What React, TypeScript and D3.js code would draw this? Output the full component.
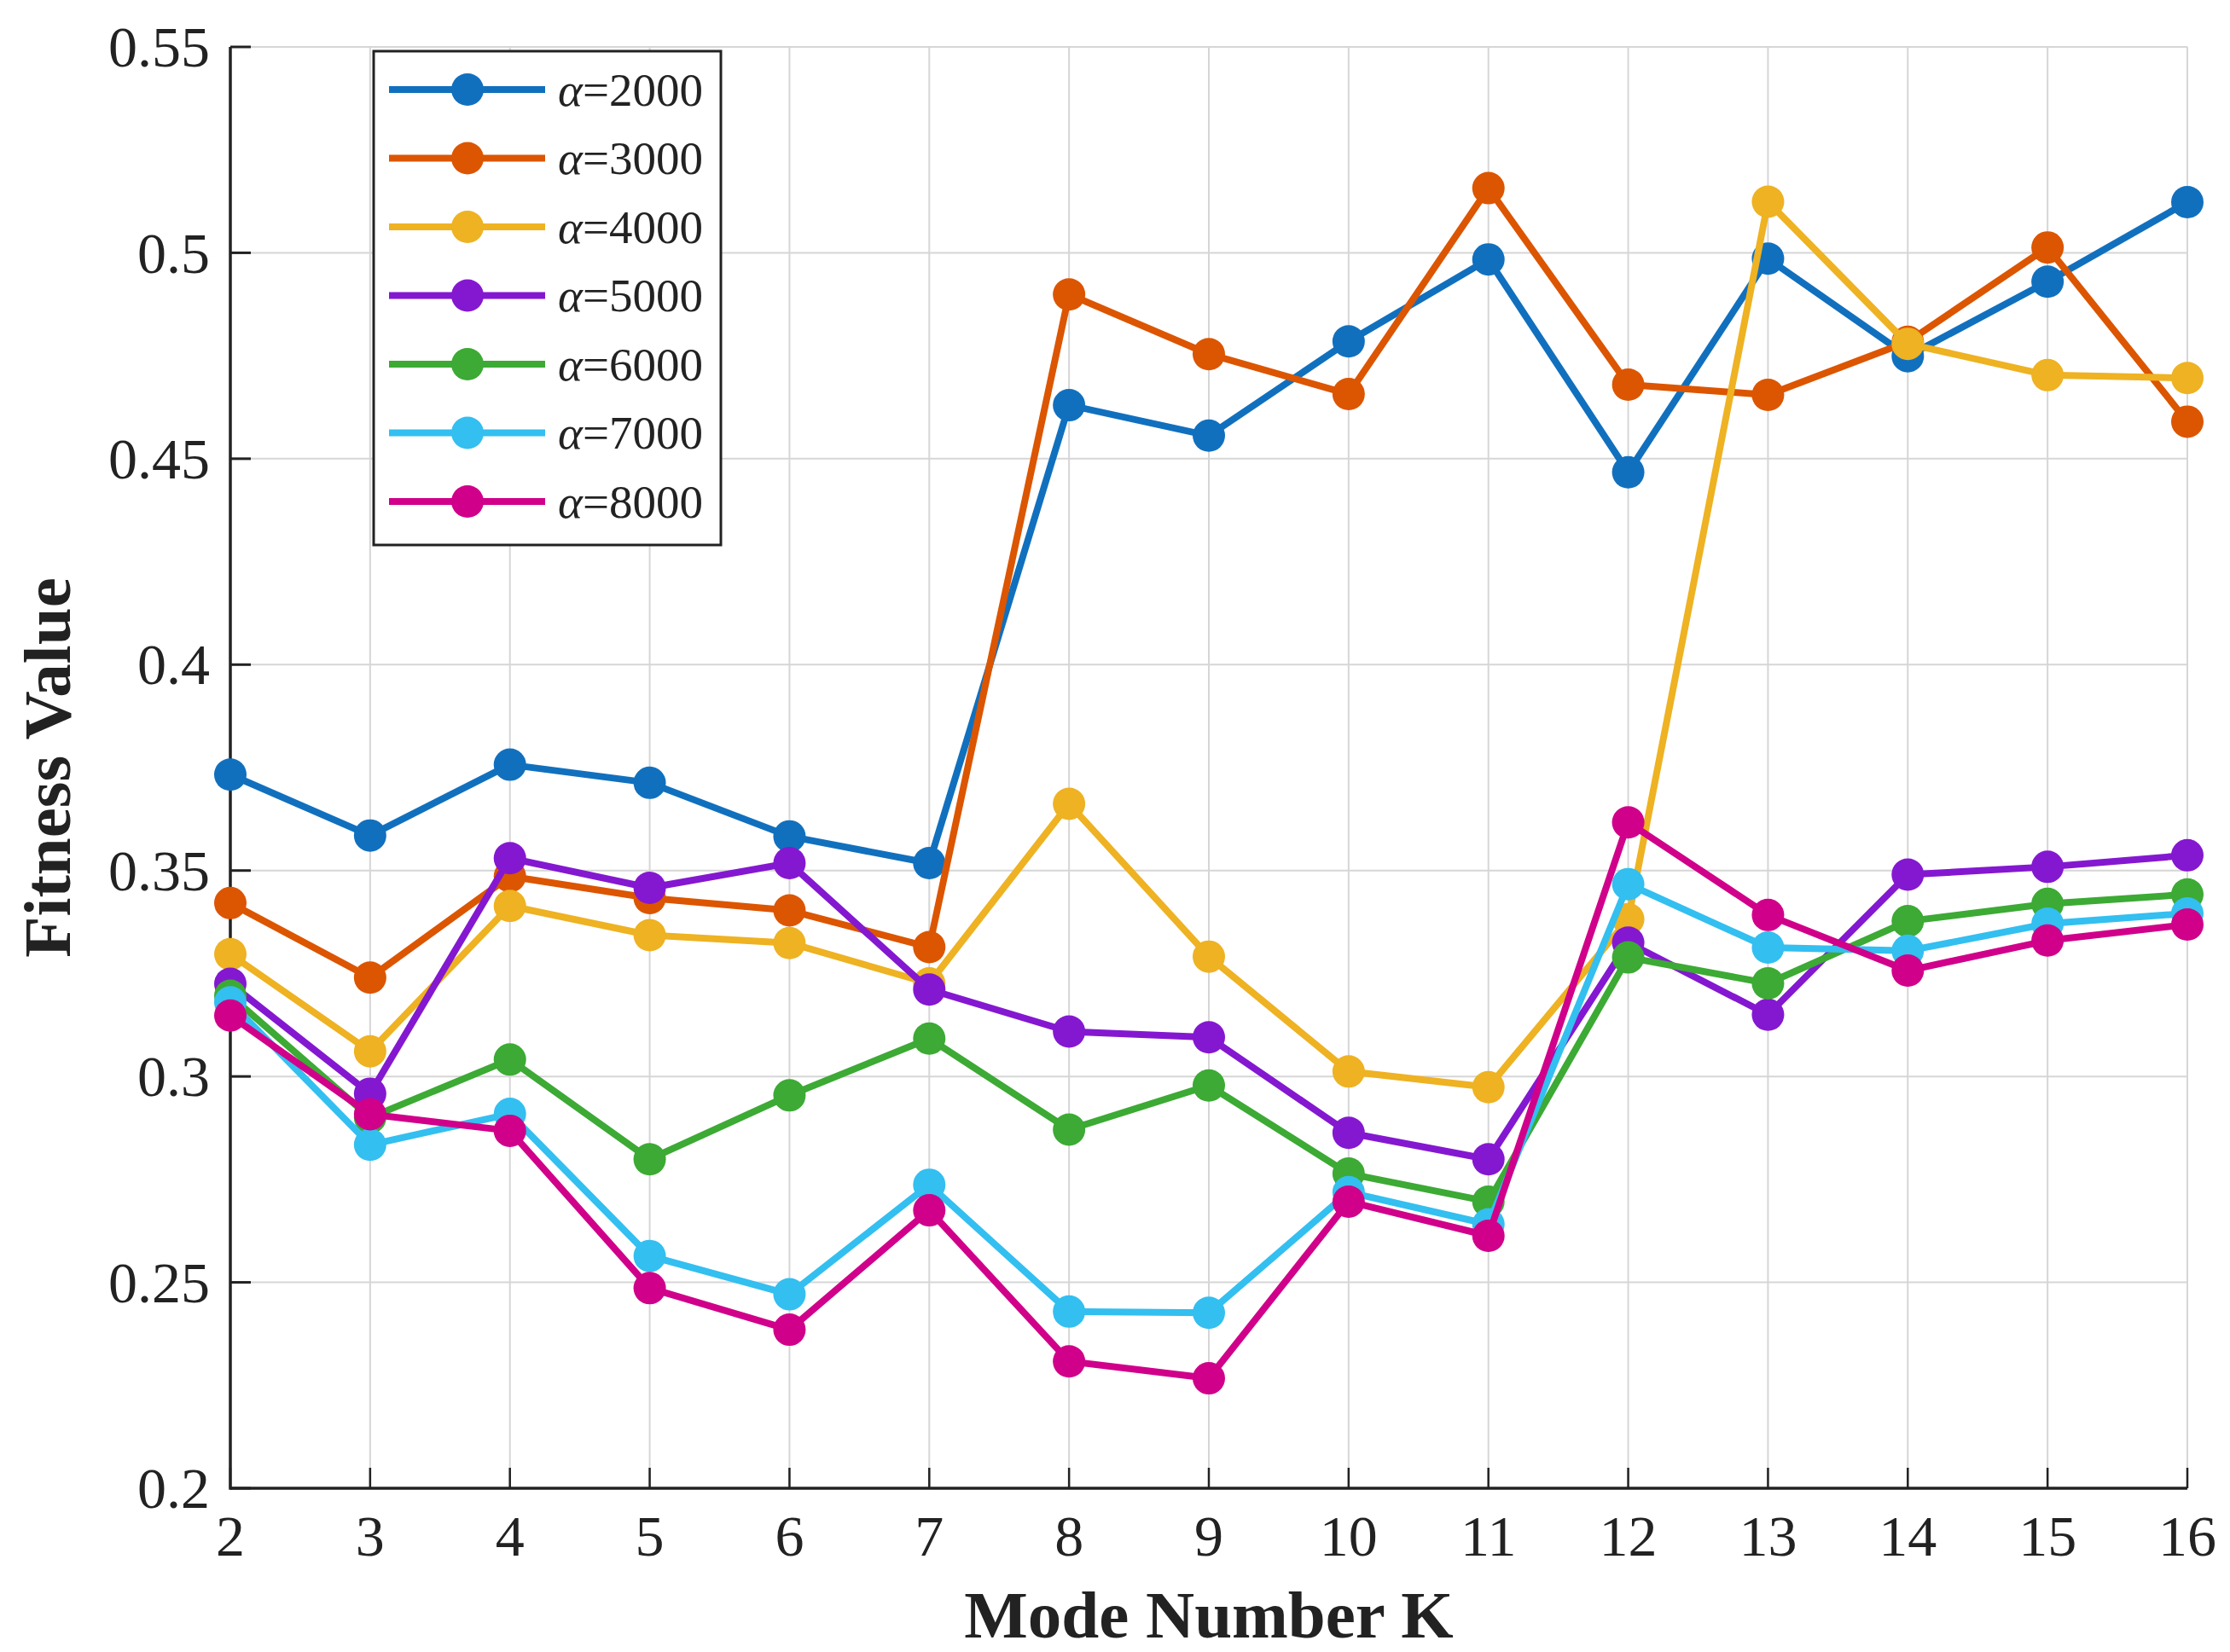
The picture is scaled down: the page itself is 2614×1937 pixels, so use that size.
import React, { useEffect } from 'react';
import * as d3 from 'd3';

// Mode number K on the x axis
const modes = [2, 3, 4, 5, 6, 7, 8, 9, 10, 11, 12, 13, 14, 15, 16];

// fitness values, one array per alpha
const alpha2000 = [0.3733, 0.3585, 0.3757, 0.3713, 0.3583, 0.3518, 0.4630, 0.4556, 0.4785, 0.4984, 0.4467, 0.4986, 0.4749, 0.4930, 0.5123];
const alpha3000 = [0.3421, 0.3240, 0.3486, 0.3433, 0.3403, 0.3314, 0.4899, 0.4754, 0.4657, 0.5157, 0.4680, 0.4655, 0.4784, 0.5013, 0.4590];
const alpha4000 = [0.3297, 0.3061, 0.3414, 0.3343, 0.3324, 0.3226, 0.3662, 0.3291, 0.3012, 0.2974, 0.3382, 0.5124, 0.4779, 0.4703, 0.4696];
const alpha5000 = [0.3225, 0.2958, 0.3530, 0.3458, 0.3518, 0.3211, 0.3109, 0.3095, 0.2863, 0.2799, 0.3325, 0.3150, 0.3490, 0.3509, 0.3537];
const alpha6000 = [0.3196, 0.2900, 0.3041, 0.2799, 0.2954, 0.3092, 0.2871, 0.2978, 0.2764, 0.2696, 0.3289, 0.3226, 0.3377, 0.3419, 0.3442];
const alpha7000 = [0.3180, 0.2834, 0.2909, 0.2564, 0.2471, 0.2737, 0.2429, 0.2426, 0.2719, 0.2641, 0.3467, 0.3313, 0.3305, 0.3371, 0.3396];
const alpha8000 = [0.3148, 0.2908, 0.2868, 0.2486, 0.2385, 0.2675, 0.2308, 0.2267, 0.2696, 0.2613, 0.3617, 0.3392, 0.3257, 0.3330, 0.3369];

const alphaLabels = ['2000', '3000', '4000', '5000', '6000', '7000', '8000'];
const seriesValues = [alpha2000, alpha3000, alpha4000, alpha5000, alpha6000, alpha7000, alpha8000];
const seriesColors = ['#1170be', '#dc5500', '#eeb222', '#8418d0', '#3caa34', '#33bff0', '#d0008a'];

const yTicks = [0.2, 0.25, 0.3, 0.35, 0.4, 0.45, 0.5, 0.55];

const W = 2614;
const H = 1937;
const FONT = '"Liberation Serif", "DejaVu Serif", serif';

const App: React.FC = () => {
  useEffect(() => {
    document.body.style.margin = '0';
  }, []);

  const x = d3.scaleLinear().domain([2, 16]).range([270, 2564]);
  const y = d3.scaleLinear().domain([0.2, 0.55]).range([1745, 55]);

  const line = d3.line<number>()
    .x((_d, i) => x(modes[i]))
    .y(d => y(d));

  const [x0, x1] = x.range();
  const [y0, y1] = y.range();

  // legend layout
  const lgX = 438, lgY = 60, lgW = 407, lgH = 579;
  const rowH = 80.5;

  return (
    <svg width={W} height={H} style={{ display: 'block', background: '#fff' }} fontFamily={FONT}>
      {/* grid */}
      <g stroke="#d6d6d6" strokeWidth={2}>
        {yTicks.map(t => (
          <line key={'gy' + t} x1={x0} x2={x1} y1={y(t)} y2={y(t)} />
        ))}
        {modes.map(k => (
          <line key={'gx' + k} x1={x(k)} x2={x(k)} y1={y0} y2={y1} />
        ))}
      </g>

      {/* axes */}
      <g stroke="#222" strokeWidth={3.5}>
        <line x1={x0} x2={x0} y1={y0 + 1.75} y2={y1} />
        <line x1={x0} x2={x1} y1={y0} y2={y0} />
        {yTicks.map(t => (
          <line key={'ty' + t} x1={x0} x2={x0 + 24} y1={y(t)} y2={y(t)} strokeWidth={3} />
        ))}
        {modes.map(k => (
          <line key={'tx' + k} x1={x(k)} x2={x(k)} y1={y0} y2={y0 - 24} strokeWidth={2.5} />
        ))}
      </g>

      {/* tick labels */}
      <g fontSize={68} fill="#222">
        {yTicks.map(t => (
          <text key={'ly' + t} x={x0 - 24} y={y(t)} dy="0.34em" textAnchor="end">{String(t)}</text>
        ))}
        {modes.map(k => (
          <text key={'lx' + k} x={x(k)} y={1824} textAnchor="middle">{k}</text>
        ))}
      </g>

      {/* axis titles */}
      <text x={(x0 + x1) / 2} y={1920} textAnchor="middle" fontSize={79} fontWeight="bold" fill="#222">
        Mode Number K
      </text>
      <text
        transform={`translate(82,${(y0 + y1) / 2}) rotate(-90)`}
        textAnchor="middle"
        fontSize={79}
        fontWeight="bold"
        fill="#222"
      >
        Fitness Value
      </text>

      {/* series */}
      {seriesValues.map((vals, si) => (
        <g key={'s' + si}>
          <path d={line(vals) || ''} fill="none" stroke={seriesColors[si]} strokeWidth={8} strokeLinejoin="round" />
          {vals.map((v, i) => (
            <circle key={i} cx={x(modes[i])} cy={y(v)} r={19} fill={seriesColors[si]} />
          ))}
        </g>
      ))}

      {/* legend */}
      <g>
        <rect x={lgX} y={lgY} width={lgW} height={lgH} fill="#fff" stroke="#222" strokeWidth={3} />
        {alphaLabels.map((lab, i) => {
          const cy = lgY + 45 + i * rowH;
          return (
            <g key={'lg' + lab}>
              <line x1={456} x2={639} y1={cy} y2={cy} stroke={seriesColors[i]} strokeWidth={8} />
              <circle cx={548} cy={cy} r={19} fill={seriesColors[i]} />
              <text x={654} y={cy} dy="0.34em" fontSize={55} fill="#222">
                <tspan fontStyle="italic">α</tspan>=
                {lab}
              </text>
            </g>
          );
        })}
      </g>
    </svg>
  );
};

export default App;
